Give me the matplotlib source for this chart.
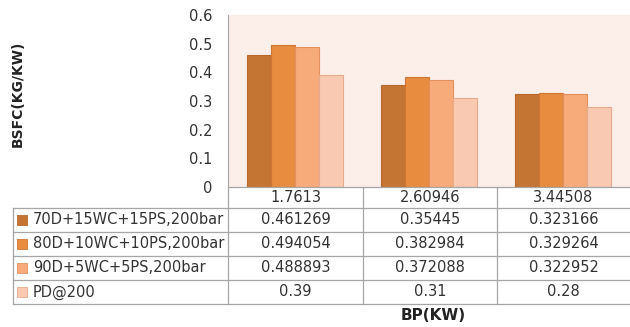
import matplotlib.pyplot as plt

plt.rcParams['font.family'] = ['DejaVu Sans']

bp_labels = ['1.7613', '2.60946', '3.44508']
series_names = ['70D+15WC+15PS,200bar', '80D+10WC+10PS,200bar',
                '90D+5WC+5PS,200bar', 'PD@200']
s70 = [0.461269, 0.35445, 0.323166]
s80 = [0.494054, 0.382984, 0.329264]
s90 = [0.488893, 0.372088, 0.322952]
pd200 = [0.39, 0.31, 0.28]
series = [s70, s80, s90, pd200]
series_text = [['0.461269', '0.35445', '0.323166'],
               ['0.494054', '0.382984', '0.329264'],
               ['0.488893', '0.372088', '0.322952'],
               ['0.39', '0.31', '0.28']]
yticks = [0, 0.1, 0.2, 0.3, 0.4, 0.5, 0.6]

colors = ['#C47533', '#E88C40', '#F7AA7A', '#F9C9B1']
edges = ['#B8692C', '#CF7635', '#E2915E', '#E6AB8C']
W, H = 630, 327
grid_c = '#A6A6A6'
txt_c = '#333333'
fs = 10.5

fig = plt.figure(figsize=(W / 100, H / 100), dpi=100)

# plot area in pixel terms
px0, px1, py0, py1 = 228, 630, 15, 187
ax = fig.add_axes([px0 / W, 1 - py1 / H, (px1 - px0) / W, (py1 - py0) / H])
ax.set_facecolor('#FCEEE9')
width = 0.18
for i, vals in enumerate(series):
    xs = [k + (i - 1.5) * width for k in range(len(vals))]
    ax.bar(xs, vals, width, color=colors[i], edgecolor=edges[i], linewidth=0.8)
ax.set_xlim(-0.5, 2.5)
ax.set_ylim(0, 0.6)
ax.set_yticks(yticks)
ax.set_yticklabels([('%g' % t) for t in yticks], fontsize=fs, color=txt_c)
ax.tick_params(axis='y', length=0, pad=11.5)
ax.set_xticks([])
for s in ['top', 'right', 'bottom']:
    ax.spines[s].set_visible(False)
ax.spines['left'].set_color(grid_c)
ax.spines['left'].set_linewidth(0.8)

# data table drawn in figure pixel coords
tx = fig.add_axes([0, 0, 1, 1], facecolor='none')
tx.set_xlim(0, W)
tx.set_ylim(H, 0)
tx.axis('off')
col_edges = [228, 363, 497, 630]
row_edges = [208, 232, 256, 280, 304]
lw = 0.9
tx.plot([228, 630], [187, 187], color=grid_c, lw=lw)
for y in row_edges:
    tx.plot([13, 630], [y, y], color=grid_c, lw=lw)
tx.plot([13, 13], [row_edges[0], row_edges[-1]], color=grid_c, lw=lw)
for x in col_edges[:-1]:
    tx.plot([x, x], [187, row_edges[-1]], color=grid_c, lw=lw)
for j, lab in enumerate(bp_labels):
    cx = (col_edges[j] + col_edges[j + 1]) / 2
    tx.text(cx, 197.5, lab, ha='center', va='center', fontsize=fs, color=txt_c)
for i, name in enumerate(series_names):
    cy = (row_edges[i] + row_edges[i + 1]) / 2
    tx.add_patch(plt.Rectangle((17, cy - 5), 10, 10, facecolor=colors[i],
                               edgecolor=edges[i], lw=0.6))
    tx.text(33, cy, name, ha='left', va='center', fontsize=fs, color=txt_c)
    for j, v in enumerate(series_text[i]):
        cx = (col_edges[j] + col_edges[j + 1]) / 2
        tx.text(cx, cy, v, ha='center', va='center', fontsize=fs, color=txt_c)

tx.text(17.5, 94, 'BSFC(KG/KW)', rotation=90, ha='center', va='center',
        fontsize=10, fontweight='bold', color='#222222')
tx.text(433, 316, 'BP(KW)', ha='center', va='center', fontsize=11,
        fontweight='bold', color='#222222')

fig.savefig('out.png', dpi=100)
